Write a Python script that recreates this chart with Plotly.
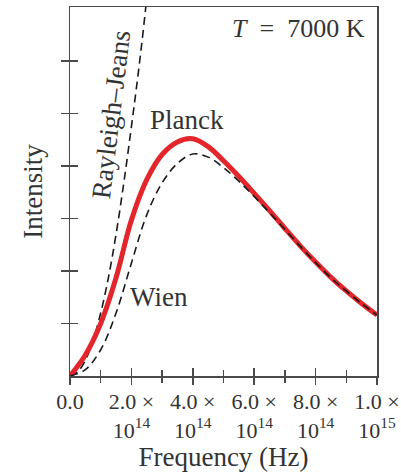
import plotly.graph_objects as go

# Frequencies in units of 1e14 Hz
freq = [0, 0.5, 1.0, 1.5, 2.0, 2.5, 3.0, 3.5, 4.0, 4.5, 5.0, 5.5, 6.0, 6.5, 7.0, 7.5, 8.0, 8.5, 9.0, 9.5, 10.0]
# Intensity (arbitrary units)
planck = [0, 0.40, 1.0, 1.87, 2.97, 3.74, 4.22, 4.46, 4.52, 4.37, 4.10, 3.80, 3.48, 3.15, 2.81, 2.48, 2.17, 1.88, 1.62, 1.38, 1.16]
wien = [0, 0.12, 0.50, 1.20, 2.15, 3.07, 3.68, 4.05, 4.23, 4.17, 3.97, 3.71, 3.42, 3.11, 2.79, 2.47, 2.16, 1.87, 1.62, 1.38, 1.16]
rj_freq = [0, 0.25, 0.5, 0.75, 1.0, 1.25, 1.5, 1.75, 2.0, 2.25, 2.5, 2.75]
rj = [0, 0.08, 0.30, 0.68, 1.20, 1.87, 2.70, 3.67, 4.75, 5.90, 7.20, 8.70]

x_tickvals = [0, 2, 4, 6, 8, 10]
x_ticktext = ["0.0", "2.0 ×<br>10<sup>14</sup>", "4.0 ×<br>10<sup>14</sup>",
              "6.0 ×<br>10<sup>14</sup>", "8.0 ×<br>10<sup>14</sup>", "1.0 ×<br>10<sup>15</sup>"]
y_tickvals = [1, 2, 3, 4, 5, 6]

FONT = "Liberation Serif"
TXT = "#333333"
AX = "#4a4a4a"
X_RANGE = [0, 10]
Y_RANGE = [0, 7.03]
DASH = dict(color="#1a1a1a", width=1.6, dash="8px,5px", shape="spline")

fig = go.Figure()
fig.add_trace(go.Scatter(x=rj_freq, y=rj, mode="lines", line=DASH,
                         showlegend=False, hoverinfo="skip"))
fig.add_trace(go.Scatter(x=freq, y=planck, mode="lines", line=dict(color="#e3262b", width=5, shape="spline"),
                         showlegend=False, hoverinfo="skip"))
fig.add_trace(go.Scatter(x=freq, y=wien, mode="lines", line=DASH,
                         showlegend=False, hoverinfo="skip", xaxis="x2", yaxis="y2"))

fig.update_layout(
    width=401, height=473,
    margin=dict(l=70, r=24, t=7, b=97),
    paper_bgcolor="white", plot_bgcolor="white",
    font=dict(family=FONT, color=TXT),
    xaxis=dict(range=X_RANGE, tickmode="array", tickvals=x_tickvals, ticktext=x_ticktext,
               ticks="inside", ticklen=8, tickwidth=1.5, tickcolor=AX, ticklabelstandoff=5,
               minor=dict(ticks="inside", ticklen=6, tickwidth=1.5, tickcolor=AX, dtick=1, showgrid=False),
               showline=True, linecolor=AX, linewidth=1.5, mirror=True,
               showgrid=False, zeroline=False, tickfont=dict(size=22, color=TXT),
               title=dict(text="Frequency (Hz)", font=dict(size=27, color=TXT), standoff=0),
               automargin=False, fixedrange=True),
    xaxis2=dict(range=X_RANGE, overlaying="x", anchor="y", matches="x", tickmode="array", tickvals=x_tickvals,
                ticks="outside", ticklen=8, tickwidth=1.5, tickcolor=AX, showticklabels=False,
                minor=dict(ticks="outside", ticklen=6, tickwidth=1.5, tickcolor=AX, dtick=1, showgrid=False),
                showline=False, showgrid=False, zeroline=False, automargin=False),
    yaxis=dict(range=Y_RANGE, tickmode="array", tickvals=y_tickvals, showticklabels=False,
               ticks="inside", ticklen=8, tickwidth=1.5, tickcolor=AX,
               showline=True, linecolor=AX, linewidth=1.5, mirror=True,
               showgrid=False, zeroline=False,
               title=dict(text="Intensity", font=dict(size=27, color=TXT), standoff=18),
               automargin=False, fixedrange=True),
    yaxis2=dict(range=Y_RANGE, overlaying="y", anchor="x", matches="y", tickmode="array", tickvals=y_tickvals,
                ticks="outside", ticklen=8, tickwidth=1.5, tickcolor=AX, showticklabels=False,
                showline=False, showgrid=False, zeroline=False, automargin=False),
    annotations=[
        dict(text="Rayleigh–Jeans", x=1.34, y=4.97, xref="x", yref="y", textangle=-83, showarrow=False,
             font=dict(size=27, color=TXT)),
        dict(text="Planck", x=3.81, y=4.87, xref="x", yref="y", showarrow=False, font=dict(size=27, color=TXT)),
        dict(text="Wien", x=2.9, y=1.5, xref="x", yref="y", showarrow=False, font=dict(size=27, color=TXT)),
        dict(text="<i>T</i>\u2002=\u20027000 K", x=7.43, y=6.63, xref="x", yref="y", showarrow=False,
             font=dict(size=26, color=TXT)),
    ],
)

fig.write_html("out.html", config={"displayModeBar": False, "staticPlot": True},
               post_script="document.body.style.margin='0';document.body.style.overflow='hidden';")
